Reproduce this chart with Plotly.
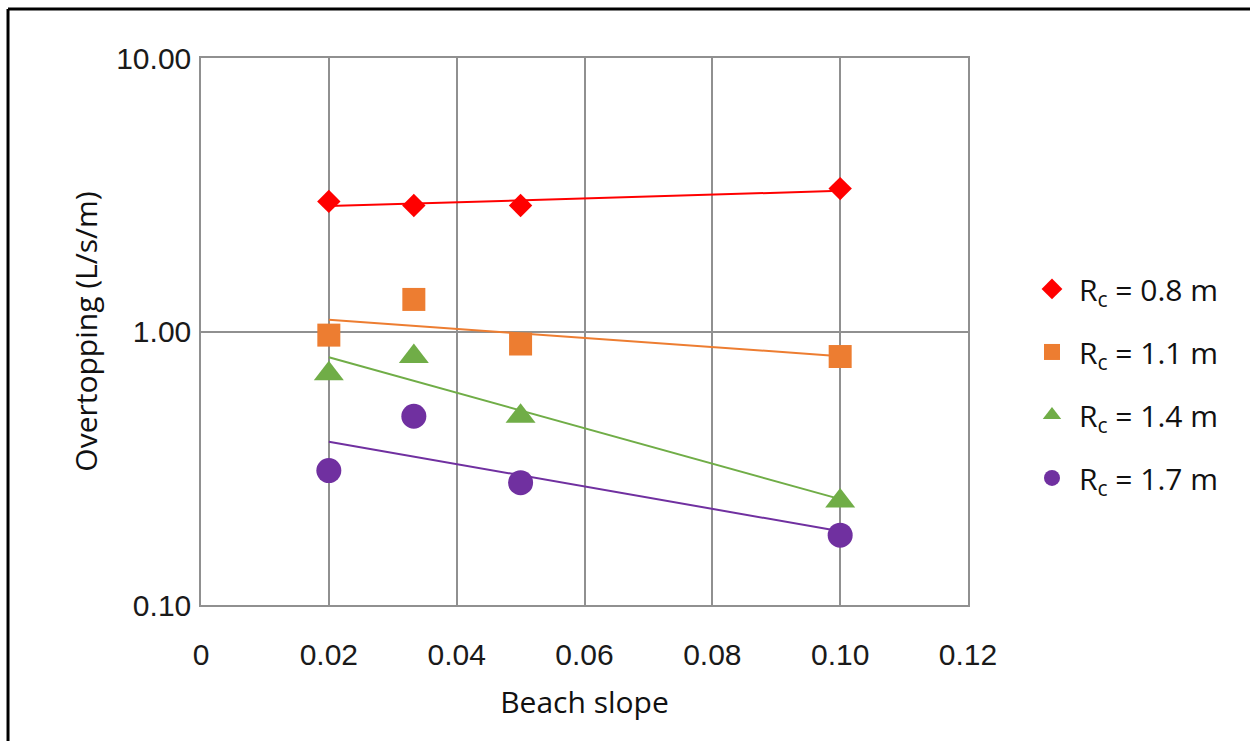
import numpy as np
import plotly.graph_objects as go

# Beach slope values tested
slopes = [0.02, 0.0333, 0.05, 0.10]

# Measured mean overtopping discharge (L/s/m) for each crest freeboard Rc
q_rc08 = [2.99, 2.89, 2.89, 3.33]
q_rc11 = [0.97, 1.31, 0.90, 0.81]
q_rc14 = [0.70, 0.81, 0.49, 0.24]
q_rc17 = [0.31, 0.49, 0.28, 0.18]

series_names = ["R<sub>c</sub> = 0.8 m", "R<sub>c</sub> = 1.1 m",
                "R<sub>c</sub> = 1.4 m", "R<sub>c</sub> = 1.7 m"]
series_values = [q_rc08, q_rc11, q_rc14, q_rc17]
colors = ["#FF0000", "#ED7D31", "#70AD47", "#7030A0"]
symbols = ["diamond", "square", "triangle-up", "circle"]
sizes = [18, 23, 26, 25]

x_ticks = [0, 0.02, 0.04, 0.06, 0.08, 0.10, 0.12]
x_ticktext = ["0", "0.02", "0.04", "0.06", "0.08", "0.10", "0.12"]
y_ticks = [0.1, 1, 10]
y_ticktext = ["0.10", "1.00", "10.00"]

fig = go.Figure()

xs = np.array(slopes)
for name, vals, col, sym, sz in zip(series_names, series_values, colors, symbols, sizes):
    # exponential trendline: ln(q) = a + b * slope
    b, a = np.polyfit(xs, np.log(vals), 1)
    xf = np.array([xs.min(), xs.max()])
    fig.add_trace(go.Scatter(
        x=xf, y=np.exp(a + b * xf), mode="lines",
        line=dict(color=col, width=2), showlegend=False, hoverinfo="skip"))

for name, vals, col, sym, sz in zip(series_names, series_values, colors, symbols, sizes):
    fig.add_trace(go.Scatter(
        x=slopes, y=vals, mode="markers", name=name, legendgroup=name,
        marker=dict(symbol=sym, size=sz, color=col, line=dict(width=0))))

grid_col = "#909090"
tick_font = dict(family="Liberation Sans, Arial, sans-serif", size=30, color="#1a1a1a")
title_font = dict(family="Open Sans, sans-serif", size=30, color="#111111")

fig.update_xaxes(
    range=[0, 0.12], tickvals=x_ticks, ticktext=x_ticktext,
    showgrid=True, gridcolor=grid_col, gridwidth=1.5,
    showline=True, linecolor=grid_col, linewidth=1.5, mirror=True,
    zeroline=False, ticks="", ticklabelstandoff=22, tickfont=tick_font,
    title=dict(text="Beach slope", font=title_font, standoff=22))

fig.update_yaxes(
    type="log", range=[-1, 1], tickvals=y_ticks, ticktext=y_ticktext,
    showgrid=True, gridcolor=grid_col, gridwidth=1.5,
    showline=True, linecolor=grid_col, linewidth=1.5, mirror=True,
    zeroline=False, ticks="", ticklabelstandoff=2, tickfont=tick_font,
    title=dict(text="Overtopping (L/s/m)", font=title_font, standoff=10))

# outer black frame around the figure
fig.add_shape(type="line", xref="paper", yref="paper",
              x0=-0.2516, x1=-0.2516, y0=-0.3, y1=1.0896,
              line=dict(color="black", width=3))
fig.add_shape(type="line", xref="paper", yref="paper",
              x0=-0.2516, x1=1.4, y0=1.0896, y1=1.0896,
              line=dict(color="black", width=3))

fig.update_layout(
    width=1250, height=741,
    margin=dict(l=201, r=282, t=58, b=136),
    paper_bgcolor="white", plot_bgcolor="white",
    showlegend=True,
    legend=dict(x=1.0743, y=0.405, xanchor="left", yanchor="middle",
                font=dict(family="Open Sans, sans-serif", size=30, color="#111111"),
                tracegroupgap=21, itemsizing="trace", itemwidth=44,
                bgcolor="rgba(0,0,0,0)"),
)

fig.write_html("out.html")
